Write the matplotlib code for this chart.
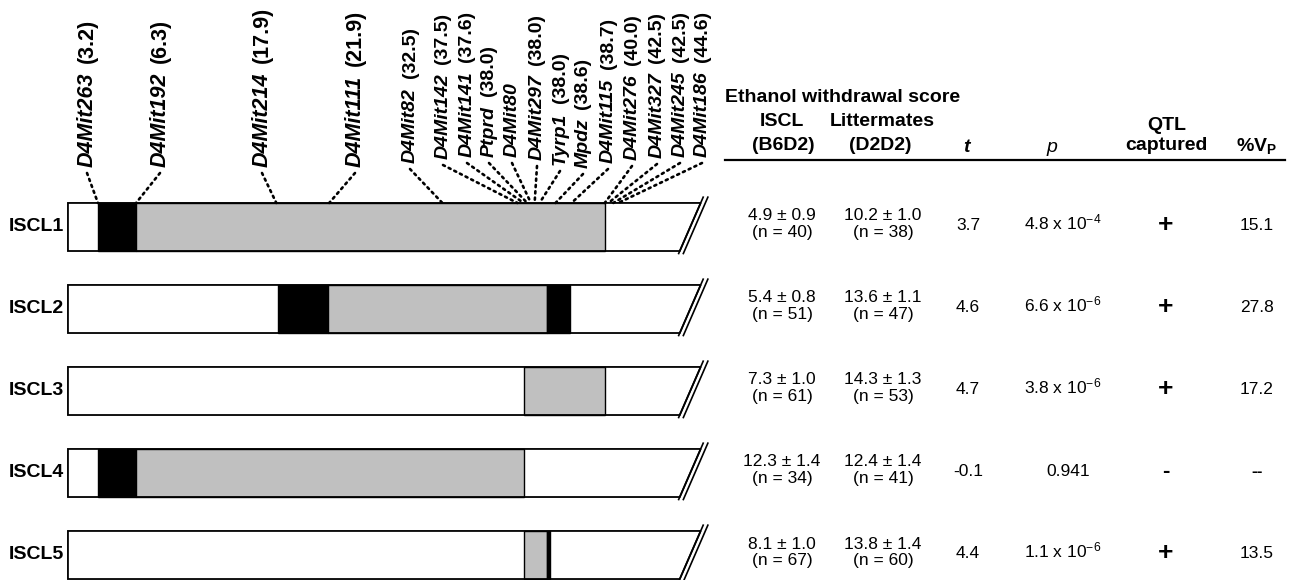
import matplotlib
matplotlib.use("Agg")
import matplotlib.pyplot as plt
import matplotlib.transforms as mtransforms
from matplotlib.patches import Polygon, Rectangle, ConnectionPatch

plt.rcParams['font.family'] = ['Liberation Sans', 'DejaVu Sans']
plt.rcParams['mathtext.fontset'] = 'custom'
plt.rcParams['mathtext.rm'] = 'Liberation Sans'
plt.rcParams['mathtext.it'] = 'Liberation Sans:italic'
plt.rcParams['mathtext.bf'] = 'Liberation Sans:bold'

# congenic lines and their donor segments (start cM, end cM, kind)
lines = ['ISCL1', 'ISCL2', 'ISCL3', 'ISCL4', 'ISCL5']
segments = [
    [(3.2, 6.3, 'black'), (6.3, 44.4, 'grey')],
    [(17.8, 21.9, 'black'), (21.9, 39.7, 'grey'), (39.7, 41.6, 'black')],
    [(37.8, 44.4, 'grey')],
    [(3.2, 6.3, 'black'), (6.3, 37.8, 'grey')],
    [(37.8, 39.7, 'grey'), (39.7, 39.95, 'black')],
]

# markers along chromosome 4
markers = ['D4Mit263', 'D4Mit192', 'D4Mit214', 'D4Mit111', 'D4Mit82',
           'D4Mit142', 'D4Mit141', 'Ptprd', 'D4Mit80', 'D4Mit297', 'Tyrp1',
           'Mpdz', 'D4Mit115', 'D4Mit276', 'D4Mit327', 'D4Mit245', 'D4Mit186']
marker_cm = ['3.2', '6.3', '17.9', '21.9', '32.5', '37.5', '37.6', '38.0', '',
             '38.0', '38.0', '38.6', '38.7', '40.0', '42.5', '42.5', '44.6']
# where each leader meets the map (schematic cM)
marker_pos = [3.2, 6.3, 17.7, 22.0, 31.2, 37.3, 37.8, 38.1, 38.4, 38.7, 39.1,
              40.4, 41.7, 44.4, 44.7, 45.1, 45.5]

# ethanol withdrawal table
iscl_mean = [4.9, 5.4, 7.3, 12.3, 8.1]
iscl_se = [0.9, 0.8, 1.0, 1.4, 1.0]
iscl_n = [40, 51, 61, 34, 67]
litt_mean = [10.2, 13.6, 14.3, 12.4, 13.8]
litt_se = [1.0, 1.1, 1.3, 1.4, 1.4]
litt_n = [38, 47, 53, 41, 60]
t_vals = [3.7, 4.6, 4.7, -0.1, 4.4]
p_vals = [4.8e-4, 6.6e-6, 3.8e-6, 0.941, 1.1e-6]
captured = ['+', '+', '+', '-', '+']
vp = [15.1, 27.8, 17.2, None, 13.5]

fill = {'black': 'black', 'grey': '#c0c0c0'}

fig = plt.figure(figsize=(12.89, 5.8), dpi=100)
ax = fig.add_axes([0, 0, 1, 1])
ax.set_xlim(-4.764, 100.03)
ax.set_ylim(4.305, -2.768)
ax.axis('off')
lay = fig.add_axes([0, 0, 1, 1], facecolor='none')
lay.set_xlim(0, 1289)
lay.set_ylim(580, 0)
lay.axis('off')
rows = mtransforms.blended_transform_factory(lay.transData, ax.transData)

half = 0.293
start, end_top, end_bot = 0.76, 52.2, 50.5
slope = (end_top - end_bot) / (2 * half)

for i, name in enumerate(lines):
    top, bot = i - half, i + half
    shape = [(start, top), (end_top, top), (end_bot, bot), (start, bot)]
    ax.add_patch(Polygon(shape, closed=True, facecolor='white', edgecolor='none', zorder=1))
    for s, e, kind in segments[i]:
        ax.add_patch(Rectangle((s, top), e - s, 2 * half, facecolor=fill[kind],
                               edgecolor='black', lw=1.0, zorder=2))
    ax.add_patch(Polygon(shape, closed=True, fill=False, edgecolor='black', lw=1.3, zorder=3))
    # break marks
    for off in (0, 0.38):
        y0, y1 = bot + 0.04, top - 0.08
        ax.plot([end_bot + off - 0.04 * slope, end_top + off + 0.08 * slope], [y0, y1],
                color='black', lw=1.2, zorder=3, solid_capstyle='butt')
    lay.text(64, i, name, transform=rows, ha='right', va='center',
             fontsize=14, fontweight='bold')

# marker labels and dotted leaders
label_x = [87, 160, 262, 355, 410, 443, 467, 489, 512, 537, 560, 583, 608, 632, 657, 680, 702]
label_y = [167, 167, 167, 167, 163, 159, 157, 157, 157, 160, 165, 168, 163, 160, 158, 157, 157]
label_size = [15.5, 15.5, 15.5, 15.5] + [14] * 13
for m, cm, pos, lx, ly, fs in zip(markers, marker_cm, marker_pos, label_x, label_y, label_size):
    t = lay.text(lx, ly, m, rotation=90, rotation_mode='anchor', ha='left', va='center',
                 fontsize=fs, fontweight='bold', fontstyle='italic')
    if cm:
        lay.annotate('(' + cm + ')', xy=(0.5, 1), xycoords=t, xytext=(0, 7),
                     textcoords='offset points', rotation=90, rotation_mode='anchor',
                     ha='left', va='center', fontsize=fs, fontweight='bold')
    con = ConnectionPatch(xyA=(lx, ly + 6), coordsA=lay.transData,
                          xyB=(pos, -half), coordsB=ax.transData,
                          linestyle=(0, (0.8, 1.6)), lw=1.9, color='black')
    fig.add_artist(con)

# table header
hdr = dict(fontsize=14, fontweight='bold', ha='center', va='center')
lay.text(725, 97, 'Ethanol withdrawal score', fontsize=14, fontweight='bold', ha='left', va='center')
lay.text(782, 122, 'ISCL', **hdr)
lay.text(783, 145, '(B6D2)', **hdr)
lay.text(882, 122, 'Littermates', **hdr)
lay.text(880, 145, '(D2D2)', **hdr)
lay.text(966, 147, 't', fontsize=14, fontstyle='italic', fontweight='bold', ha='center', va='center')
lay.text(1052, 147, 'p', fontsize=14, fontstyle='italic', ha='center', va='center')
lay.text(1167, 126, 'QTL', **hdr)
lay.text(1166, 145, 'captured', **hdr)
lay.text(1257, 146, r'$\mathbf{\%V_P}$', **hdr)
lay.plot([725, 1285], [160, 160], color='black', lw=1.6)

cell = dict(fontsize=12.5, ha='center', va='center')
for i in range(len(lines)):
    lay.text(782, i - 0.134, f'{iscl_mean[i]:.1f} \u00b1 {iscl_se[i]:.1f}', transform=rows, **cell)
    lay.text(782, i + 0.073, f'(n = {iscl_n[i]})', transform=rows, **cell)
    lay.text(883, i - 0.134, f'{litt_mean[i]:.1f} \u00b1 {litt_se[i]:.1f}', transform=rows, **cell)
    lay.text(883, i + 0.073, f'(n = {litt_n[i]})', transform=rows, **cell)
    lay.text(968, i - 0.02, f'{t_vals[i]:.1f}', transform=rows, **cell)
    p = p_vals[i]
    if p < 0.001:
        exp = int(f'{p:.1e}'.split('e')[1])
        mant = p / 10 ** exp
        ptxt = f'{mant:.1f} x 10$^{{{exp}}}$'
        lay.text(1063, i - 0.05, ptxt, transform=rows, **cell)
    else:
        lay.text(1068, i - 0.02, f'{p:.3f}', transform=rows, **cell)
    lay.text(1166, i - 0.02, captured[i], transform=rows, fontsize=19 if captured[i] == '+' else 16,
             fontweight='bold', ha='center', va='center')
    lay.text(1257, i - 0.02, f'{vp[i]:.1f}' if vp[i] is not None else '--', transform=rows,
             fontsize=12.5, fontweight='bold' if vp[i] is None else 'normal', ha='center', va='center')

fig.savefig('out.png', dpi=100)
